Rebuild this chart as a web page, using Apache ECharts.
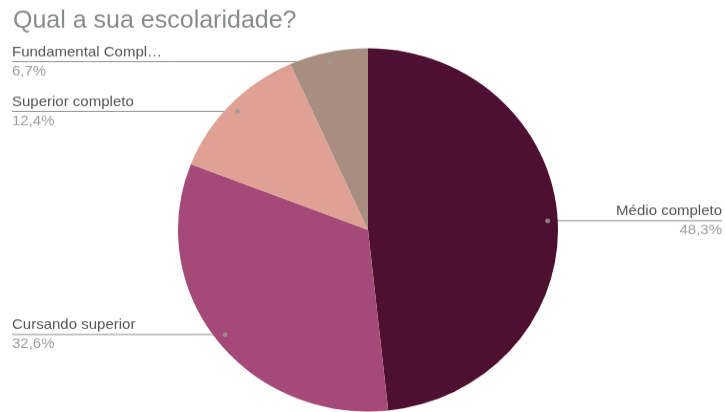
<!DOCTYPE html>
<html>
<head>
<meta charset="utf-8">
<script src="https://cdn.jsdelivr.net/npm/echarts@6/dist/echarts.min.js"></script>
<style>
  html, body { margin: 0; padding: 0; background: #fff; overflow: hidden; }
  /* a imagem original esta levemente achatada na vertical */
  #chart { width: 725px; height: 431px; transform: scaleY(0.9559); transform-origin: 0 0; }
</style>
</head>
<body>
<div id="chart"></div>
<script>
const categories = ['Médio completo', 'Cursando superior', 'Superior completo', 'Fundamental Completo']
const values = [48.3, 32.6, 12.4, 6.7]
const colors = ['#4e1030', '#a54a78', '#e0a195', '#a88e81']

const cx = 368
const cy = 240.5
const radius = 190
const dotRadius = 180
const font = 'Liberation Sans'

// angulo do meio de cada fatia, em % (0 = topo, sentido horario)
const total = values.reduce((a, b) => a + b, 0)
let acc = 0
const midPct = values.map(v => {
  const m = (acc + v / 2) / total * 100
  acc += v
  return m
})

function dotPos (i) {
  const a = midPct[i] / 100 * Math.PI * 2
  return [cx + dotRadius * Math.sin(a), cy - dotRadius * Math.cos(a)]
}

const chart = echarts.init(document.getElementById('chart'))
chart.setOption({
  animation: false,
  textStyle: { fontFamily: font },
  title: {
    text: 'Qual a sua escolaridade?',
    left: 8,
    top: 5,
    textStyle: { fontSize: 25, fontWeight: 'normal', color: '#888c89', fontFamily: font }
  },
  polar: { center: [cx, cy], radius: dotRadius },
  angleAxis: { type: 'value', min: 0, max: 100, startAngle: 90, show: false },
  radiusAxis: { type: 'value', min: 0, max: 1, show: false },
  series: [
    {
      type: 'pie',
      center: [cx, cy],
      radius: radius,
      startAngle: 90,
      clockwise: true,
      z: 1,
      itemStyle: { borderWidth: 0 },
      emphasis: { disabled: true },
      data: categories.map((c, i) => ({ name: c, value: values[i], itemStyle: { color: colors[i] } })),
      label: {
        show: true,
        position: 'outside',
        formatter: p => {
          const name = p.name.length > 18 ? p.name.slice(0, 17) + '…' : p.name
          return '{n|' + name + '}\n{p|' + p.value.toFixed(1).replace('.', ',') + '%}'
        },
        rich: {
          n: { fontSize: 15, color: '#555555', lineHeight: 20, fontFamily: font },
          p: { fontSize: 15, color: '#9e9e9e', lineHeight: 20, fontFamily: font }
        }
      },
      labelLine: { show: true, lineStyle: { color: '#8a8a8a', width: 1 } },
      labelLayout: params => {
        const d = dotPos(params.dataIndex)
        const right = d[0] > cx
        const x = right ? 722 : 12
        return {
          x: x,
          y: d[1],
          align: right ? 'right' : 'left',
          verticalAlign: 'middle',
          labelLinePoints: [d, [(d[0] + x) / 2, d[1]], [x, d[1]]]
        }
      }
    },
    {
      type: 'scatter',
      coordinateSystem: 'polar',
      symbolSize: 5,
      z: 5,
      itemStyle: { color: '#9a9a9a' },
      silent: true,
      data: midPct.map(m => [1, m])
    }
  ]
})
</script>
</body>
</html>
